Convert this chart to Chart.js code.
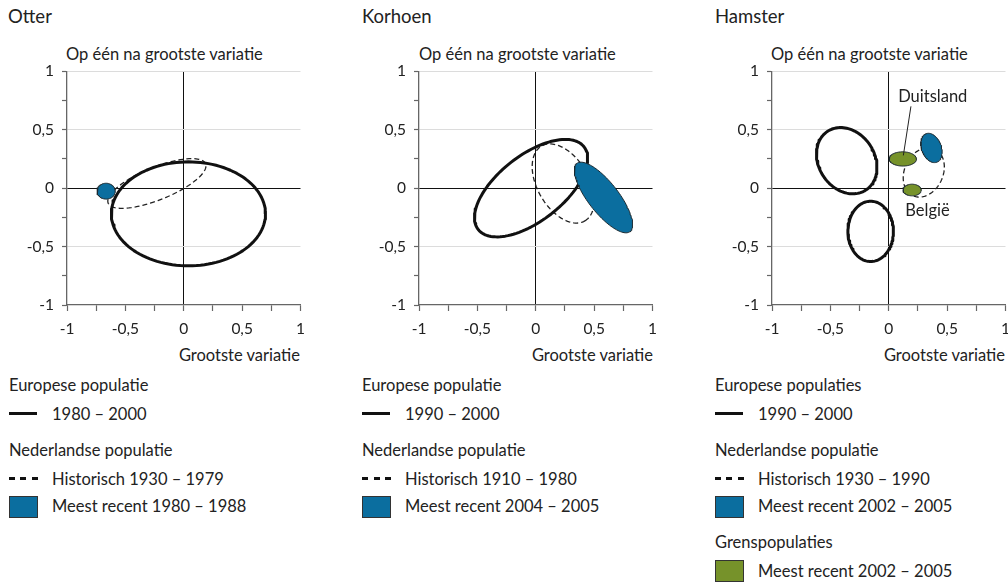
<!DOCTYPE html>
<html>
<head>
<meta charset="utf-8">
<script src="https://cdn.jsdelivr.net/npm/chart.js@4.4.1/dist/chart.umd.min.js"></script>
<style>
  html, body { margin: 0; padding: 0; background: #fff; }
  body { position: relative; width: 1008px; height: 584px; overflow: hidden;
         font-family: Lato, "Noto Sans", sans-serif; color: #222; }
  .abs { position: absolute; white-space: nowrap; }
  .title { font-size: 18.5px; top: 5px; }
  .ytitle { font-size: 16.5px; top: 44px; }
  .xtitle { font-size: 16.5px; top: 345px; text-align: right; }
  canvas { position: absolute; top: 60px; }
  .leg { position: absolute; top: 0; left: 0; font-size: 16.5px; }
  .leg div { position: absolute; white-space: nowrap; }
  .solid { left: 9px; width: 28px; height: 2.8px; background: #111; }
  .dash { left: 9px; width: 29px; height: 2.6px;
          background: repeating-linear-gradient(90deg, #111 0 6px, transparent 6px 11.5px); }
  .box { left: 9px; width: 27px; height: 20px; border: 1px solid #333; }
  .blue { background: #0b6e9f; }
  .green { background: #76922a; }
</style>
</head>
<body>

<div class="abs title" style="left:8px">Otter</div>
<div class="abs title" style="left:362px">Korhoen</div>
<div class="abs title" style="left:715px">Hamster</div>

<div class="abs ytitle" style="left:66px">Op één na grootste variatie</div>
<div class="abs ytitle" style="left:419px">Op één na grootste variatie</div>
<div class="abs ytitle" style="left:771px">Op één na grootste variatie</div>

<div class="abs xtitle" style="right:708px">Grootste variatie</div>
<div class="abs xtitle" style="right:355px">Grootste variatie</div>
<div class="abs xtitle" style="right:3px">Grootste variatie</div>

<canvas id="otterChart"></canvas>
<canvas id="korhoenChart"></canvas>
<canvas id="hamsterChart"></canvas>

<div class="leg" style="left:0px">
  <div style="left:9px; top:375px">Europese populatie</div>
  <div class="solid" style="top:412px"></div>
  <div style="left:52px; top:404px">1980 – 2000</div>
  <div style="left:9px; top:440px">Nederlandse populatie</div>
  <div class="dash" style="top:477px"></div>
  <div style="left:52px; top:469px">Historisch 1930 – 1979</div>
  <div class="box blue" style="top:496px"></div>
  <div style="left:52px; top:496px">Meest recent 1980 – 1988</div>
</div>

<div class="leg" style="left:353px">
  <div style="left:9px; top:375px">Europese populatie</div>
  <div class="solid" style="top:412px"></div>
  <div style="left:52px; top:404px">1990 – 2000</div>
  <div style="left:9px; top:440px">Nederlandse populatie</div>
  <div class="dash" style="top:477px"></div>
  <div style="left:52px; top:469px">Historisch 1910 – 1980</div>
  <div class="box blue" style="top:496px"></div>
  <div style="left:52px; top:496px">Meest recent 2004 – 2005</div>
</div>

<div class="leg" style="left:706px">
  <div style="left:9px; top:375px">Europese populaties</div>
  <div class="solid" style="top:412px"></div>
  <div style="left:52px; top:404px">1990 – 2000</div>
  <div style="left:9px; top:440px">Nederlandse populatie</div>
  <div class="dash" style="top:477px"></div>
  <div style="left:52px; top:469px">Historisch 1930 – 1990</div>
  <div class="box blue" style="top:496px"></div>
  <div style="left:52px; top:496px">Meest recent 2002 – 2005</div>
  <div style="left:9px; top:532px">Grenspopulaties</div>
  <div class="box green" style="top:560px"></div>
  <div style="left:52px; top:561px">Meest recent 2002 – 2005</div>
</div>

<script>
// --------------------------------------
// Data: ellipses as [centre x, centre y, semi axis a, semi axis b, angle (deg)]
// --------------------------------------

const otterEuropean = [0.04, -0.22, 0.66, 0.445, 0];
const otterHistoric = [-0.23, 0.04, 0.45, 0.14, 22];
const otterRecent = [-0.665, -0.026, 0.078, 0.068, 0];

const korhoenEuropean = [-0.04, 0.0, 0.575, 0.28, 38];
const korhoenHistoric = [0.235, 0.04, 0.37, 0.22, -60];
const korhoenRecent = [0.58, -0.08, 0.37, 0.13, -52];

const hamsterEuropeanNorth = [-0.36, 0.235, 0.30, 0.24, -57];
const hamsterEuropeanSouth = [-0.155, -0.37, 0.258, 0.195, 90];
const hamsterHistoric = [0.30, 0.135, 0.22, 0.165, 65];
const hamsterRecent = [0.366, 0.344, 0.13, 0.085, 110];
const hamsterGermany = [0.12, 0.25, 0.117, 0.061, 0];
const hamsterBelgium = [0.2, -0.016, 0.078, 0.05, 0];

// leader line Duitsland label -> ellipse
const leaderX = [0.19, 0.125];
const leaderY = [0.70, 0.28];

// labels in the hamster panel
const hamsterLabels = ["Duitsland", "België"];
const hamsterLabelX = [0.377, 0.332];
const hamsterLabelY = [0.78, -0.19];

// axis ticks
const majorTicks = [-1, -0.5, 0, 0.5, 1];

const blue = "#0b6e9f";
const green = "#76922a";
const fontFamily = "Lato, 'Noto Sans', sans-serif";

// plot area on the page
const plotTop = 71;
const plotSize = 234;


// --------------------------------------
// Ellipse outline from its parameters
// --------------------------------------

function ellipsePoints(e) {
  const [cx, cy, a, b, deg] = e;
  const t = deg * Math.PI / 180;
  const points = [];
  const n = 120;

  // one step past the start so the outline closes without a notch
  for (let i = 0; i <= n + 1; i++) {
    const s = (i / n) * 2 * Math.PI;
    const u = a * Math.cos(s);
    const v = b * Math.sin(s);
    points.push({
      x: cx + u * Math.cos(t) - v * Math.sin(t),
      y: cy + u * Math.sin(t) + v * Math.cos(t)
    });
  }

  return points;
}

function solidSet(e) {
  return {
    data: ellipsePoints(e),
    showLine: true,
    borderColor: "#111",
    borderWidth: 3,
    borderJoinStyle: "round",
    borderCapStyle: "round",
    pointRadius: 0,
    fill: false,
    order: 2
  };
}

function dashedSet(e) {
  return {
    data: ellipsePoints(e),
    showLine: true,
    borderColor: "#222",
    borderWidth: 1.3,
    borderDash: [5, 3],
    pointRadius: 0,
    fill: false,
    order: 3
  };
}

function filledSet(e, color) {
  return {
    data: ellipsePoints(e),
    showLine: true,
    borderColor: "#1d2a30",
    borderWidth: 1,
    borderJoinStyle: "round",
    backgroundColor: color,
    pointRadius: 0,
    fill: "shape",
    order: 1
  };
}


// --------------------------------------
// Text labels inside a panel
// --------------------------------------

const pointLabels = {
  id: "pointLabels",
  afterDatasetsDraw(chart, args, opts) {
    if (!opts.texts) {
      return;
    }
    const ctx = chart.ctx;
    ctx.save();
    ctx.font = "16.5px " + fontFamily;
    ctx.fillStyle = "#222";
    ctx.textAlign = "center";
    ctx.textBaseline = "middle";
    opts.texts.forEach((text, i) => {
      const x = chart.scales.x.getPixelForValue(opts.xs[i]);
      const y = chart.scales.y.getPixelForValue(opts.ys[i]);
      ctx.fillText(text, x, y);
    });
    ctx.restore();
  }
};


// --------------------------------------
// Chart
// --------------------------------------

function formatTick(value) {
  if (!majorTicks.includes(value)) {
    return "";
  }
  return String(value).replace(".", ",");
}

function makeConfig(datasets, labels) {
  return {
    type: "scatter",
    data: { datasets: datasets },
    plugins: [pointLabels],
    options: {
      responsive: false,
      maintainAspectRatio: false,
      animation: false,
      events: [],
      layout: {
        padding: { left: 12, top: 0, right: 0, bottom: 0 }
      },
      plugins: {
        legend: { display: false },
        tooltip: { enabled: false },
        pointLabels: labels || {}
      },
      scales: {
        x: {
          type: "linear",
          min: -1,
          max: 1,
          afterFit: (scale) => { scale.height = 45; },
          border: { color: "#666", width: 1.3 },
          grid: {
            color: (c) => (c.tick && c.tick.value === 0 ? "#111" : "rgba(0,0,0,0)"),
            lineWidth: 1,
            tickColor: "#666",
            tickWidth: 1.2,
            tickLength: 6
          },
          ticks: {
            stepSize: 0.25,
            autoSkip: false,
            maxRotation: 0,
            padding: 9,
            color: "#222",
            font: { family: fontFamily, size: 15.5 },
            callback: formatTick
          }
        },
        y: {
          type: "linear",
          min: -1,
          max: 1,
          afterFit: (scale) => { scale.width = 50; },
          border: { color: "#666", width: 1.3 },
          grid: {
            color: (c) => {
              if (!c.tick) {
                return "rgba(0,0,0,0)";
              }
              const v = c.tick.value;
              if (v === 0) {
                return "#111";
              }
              if (v === 1 || v === 0.5 || v === -0.5) {
                return "#dcdcdc";
              }
              return "rgba(0,0,0,0)";
            },
            lineWidth: 1,
            tickColor: "#666",
            tickWidth: 1.2,
            tickLength: 5
          },
          ticks: {
            stepSize: 0.25,
            autoSkip: false,
            padding: 8,
            color: "#222",
            font: { family: fontFamily, size: 15.5 },
            callback: formatTick
          }
        }
      }
    }
  };
}

// build once, measure the plot area, then rebuild at the size that
// gives the wanted plot area and move the canvas onto its place
function createPanel(canvasId, plotLeft, buildDatasets, labels) {
  const canvas = document.getElementById(canvasId);
  canvas.width = 300;
  canvas.height = 300;

  let chart = new Chart(canvas, makeConfig(buildDatasets(), labels));
  const area = chart.chartArea;
  const w = 300 + (plotSize - (area.right - area.left));
  const h = 300 + (plotSize - (area.bottom - area.top));
  chart.destroy();

  canvas.width = Math.round(w);
  canvas.height = Math.round(h);
  chart = new Chart(canvas, makeConfig(buildDatasets(), labels));

  const a = chart.chartArea;
  canvas.style.left = (plotLeft - a.left) + "px";
  canvas.style.top = (plotTop - a.top) + "px";

  return chart;
}


// --------------------------------------
// Panels
// --------------------------------------

createPanel("otterChart", 66.5, () => [
  filledSet(otterRecent, blue),
  solidSet(otterEuropean),
  dashedSet(otterHistoric)
]);

createPanel("korhoenChart", 419, () => [
  filledSet(korhoenRecent, blue),
  solidSet(korhoenEuropean),
  dashedSet(korhoenHistoric)
]);

createPanel("hamsterChart", 771.5, () => [
  filledSet(hamsterRecent, blue),
  filledSet(hamsterGermany, green),
  filledSet(hamsterBelgium, green),
  solidSet(hamsterEuropeanNorth),
  solidSet(hamsterEuropeanSouth),
  dashedSet(hamsterHistoric),
  {
    data: leaderX.map((x, i) => ({ x: x, y: leaderY[i] })),
    showLine: true,
    borderColor: "#222",
    borderWidth: 1,
    pointRadius: 0,
    fill: false,
    order: 0
  }
], {
  texts: hamsterLabels,
  xs: hamsterLabelX,
  ys: hamsterLabelY
});
</script>
</body>
</html>
